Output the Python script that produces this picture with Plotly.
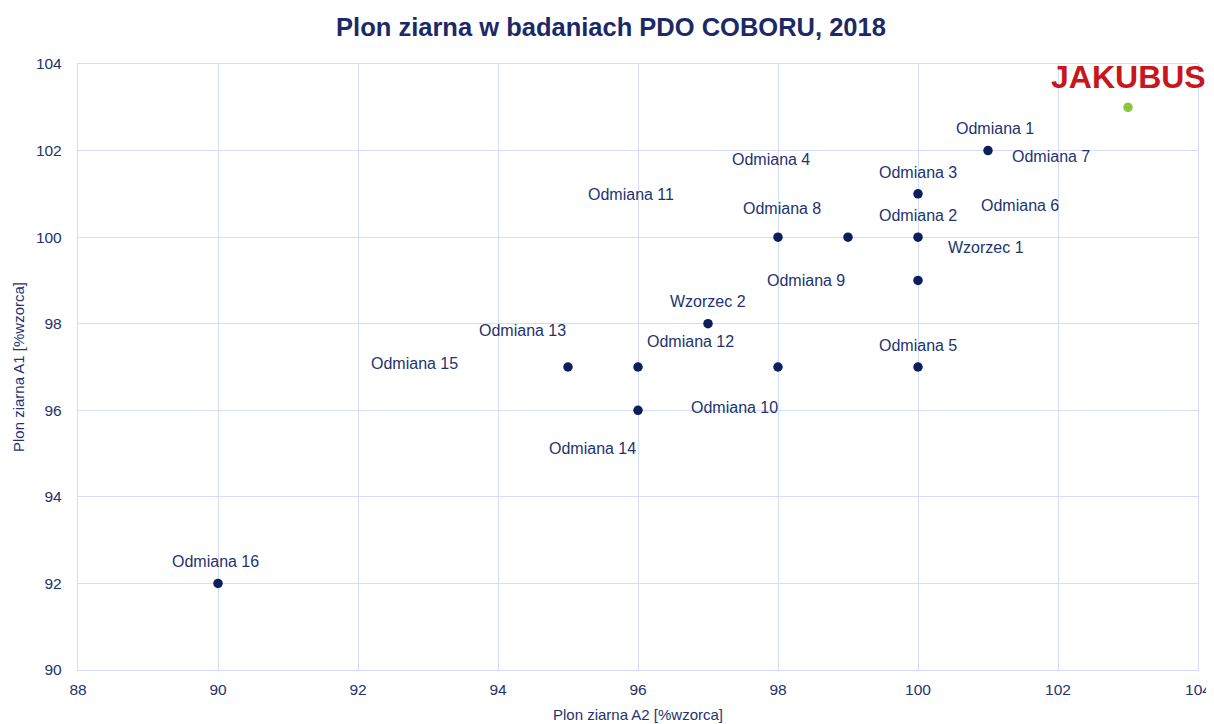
import plotly.graph_objects as go

# --- data ---
a2 = [103, 101, 100, 100, 99, 98, 100, 97, 95, 96, 98, 100, 96, 90]
a1 = [103, 102, 101, 100, 100, 100, 99, 98, 97, 97, 97, 97, 96, 92]

label_texts = ["Odmiana 1", "Odmiana 7", "Odmiana 4", "Odmiana 3", "Odmiana 11",
               "Odmiana 6", "Odmiana 8", "Odmiana 2", "Wzorzec 1", "Odmiana 9",
               "Wzorzec 2", "Odmiana 13", "Odmiana 12", "Odmiana 5", "Odmiana 15",
               "Odmiana 10", "Odmiana 14", "Odmiana 16"]
label_x = [101.1, 101.9, 97.9, 100.0, 95.9, 101.45, 98.05, 100.0, 100.97, 98.4,
           97.0, 94.35, 96.75, 100.0, 92.8, 97.38, 95.35, 89.97]
label_y = [102.52, 101.87, 101.8, 101.5, 100.98, 100.72, 100.66, 100.5, 99.75, 98.99,
           98.52, 97.84, 97.6, 97.5, 97.09, 96.06, 95.12, 92.5]

highlight_name = "JAKUBUS"

x_ticks = [88, 90, 92, 94, 96, 98, 100, 102, 104]
y_ticks = [90, 92, 94, 96, 98, 100, 102, 104]

navy = "#233371"
grid = "#d3ddf7"
font_family = "Liberation Sans, Arial"

colors = ["#8cc63f"] + ["#0c1e5b"] * (len(a2) - 1)

fig = go.Figure()
fig.add_trace(go.Scatter(x=a2, y=a1, mode="markers",
                         marker=dict(size=9.5, color=colors), hoverinfo="x+y",
                         showlegend=False))

for t, lx, ly in zip(label_texts, label_x, label_y):
    fig.add_annotation(x=lx, y=ly, text=t, showarrow=False,
                       font=dict(family=font_family, size=16, color=navy))

fig.add_annotation(x=a2[0], y=a1[0], yshift=30, text="<b>" + highlight_name + "</b>",
                   showarrow=False,
                   font=dict(family=font_family, size=32, color="#c8161d"))

fig.update_layout(
    width=1206, height=716,
    paper_bgcolor="white", plot_bgcolor="white",
    margin=dict(l=70, r=16, t=56, b=54, autoexpand=False),
    title=dict(text="<b>Plon ziarna w badaniach PDO COBORU, 2018</b>",
               x=0.5, xanchor="center", y=0.9735, yanchor="middle",
               font=dict(family=font_family, size=25.5, color="#1b2a66")),
    font=dict(family=font_family, color=navy),
)
fig.update_xaxes(range=[88, 104], tickvals=x_ticks, showgrid=True, gridcolor=grid,
                 gridwidth=1.3, zeroline=False, showline=True, linecolor=grid, linewidth=1.3,
                 mirror=True, automargin=False, tickfont=dict(size=15.5, color=navy),
                 ticklabelstandoff=5,
                 title=dict(text="Plon ziarna A2 [%wzorca]", font=dict(size=15, color=navy),
                            standoff=12))
fig.update_yaxes(range=[90, 104], tickvals=y_ticks, showgrid=True, gridcolor=grid,
                 gridwidth=1.3, zeroline=False, showline=True, linecolor=grid, linewidth=1.3,
                 mirror=True, automargin=False, tickfont=dict(size=15.5, color=navy),
                 ticklabelstandoff=12,
                 title=dict(text="Plon ziarna A1 [%wzorca]", font=dict(size=15, color=navy),
                            standoff=7))

fig.write_html("out.html")
